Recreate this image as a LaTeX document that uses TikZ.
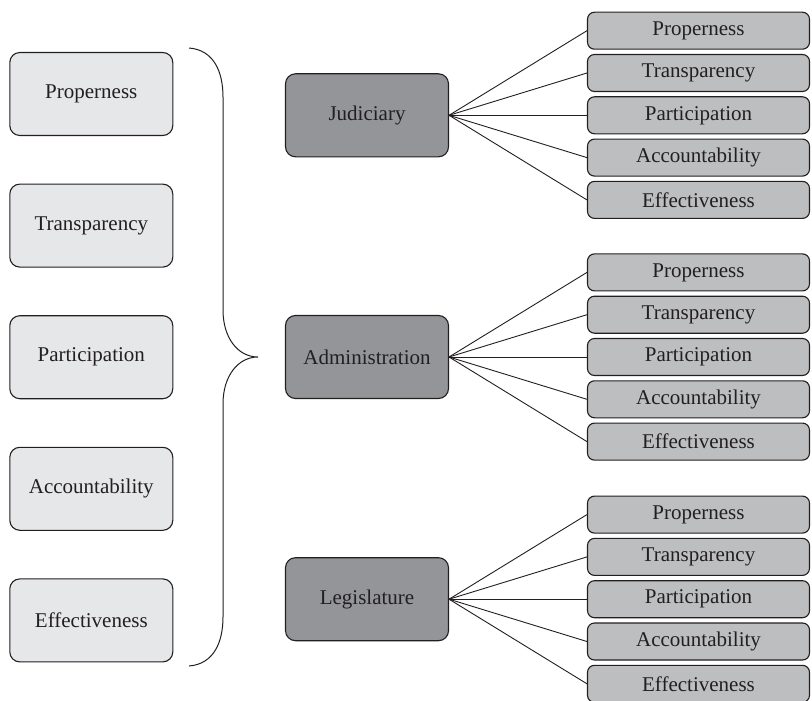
\documentclass[tikz,border=0pt]{standalone}
\usepackage{fontspec}
\setmainfont{Liberation Serif}
\definecolor{ink}{HTML}{231F20}
\definecolor{paleFill}{HTML}{E6E7E8}
\definecolor{darkFill}{HTML}{939598}
\definecolor{midFill}{HTML}{BCBEC0}
\begin{document}
\begin{tikzpicture}[x=1pt,y=-1pt,
  box/.style={draw=ink, line width=1.1pt, text=ink, inner sep=0pt, align=center,
    font=\fontsize{21}{25}\selectfont},
  leftbox/.style={box, fill=paleFill, minimum width=163pt, minimum height=83pt,
    rounded corners=10pt},
  branch/.style={box, fill=darkFill, minimum width=163pt, minimum height=83pt,
    rounded corners=10pt},
  leaf/.style={box, fill=midFill, minimum width=222pt, minimum height=37pt,
    rounded corners=7pt},
  link/.style={draw=ink, line width=0.9pt}]
\useasboundingbox (0,0) rectangle (812,701);

% criteria column
\foreach \t [count=\i] in {Properness,Transparency,Participation,Accountability,Effectiveness}
  \node[leftbox] (c\i) at (91.3, {94 + (\i-1)*131.6}) {\t};

% brace gathering the criteria
\draw[ink, line width=1pt] (189,48) .. controls (214,50) and (223,72) .. (223,97)
  -- (223,310) .. controls (223,338) and (238,357) .. (258,357)
  .. controls (238,357) and (223,376) .. (223,404)
  -- (223,617) .. controls (223,642) and (214,664) .. (189,666);

% branches and their criteria
\foreach \b/\name/\y in {j/Judiciary/115.3, a/Administration/357, l/Legislature/599.2} {
  \node[branch] (\b) at (367, \y) {\name};
  \foreach \t [count=\k] in {Properness,Transparency,Participation,Accountability,Effectiveness} {
    \node[leaf] (\b\k) at (698.5, {\y + (\k-3)*42.3}) {\t};
    \draw[link] (\b.east) -- (\b\k.west);
  }
}
\end{tikzpicture}
\end{document}
